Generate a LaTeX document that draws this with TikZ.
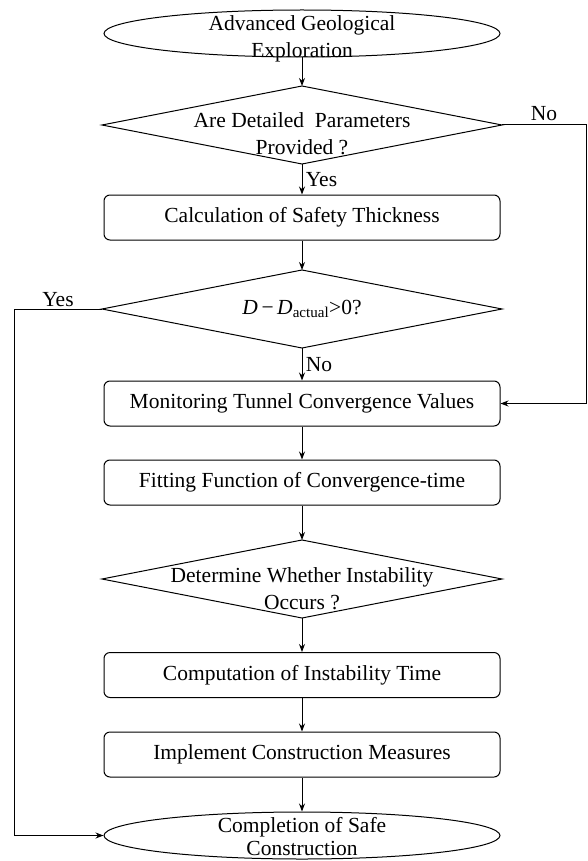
\documentclass[tikz,border=0pt]{standalone}
\usepackage{fontspec}
\setmainfont{Liberation Serif}
\usetikzlibrary{arrows.meta, shapes}
\tikzset{
	startstop/.style={ellipse, draw, minimum width=396pt, minimum height=47pt, inner sep=0pt},
	decision/.style={rectangle, minimum width=399pt, minimum height=77pt, inner sep=0pt},
	process/.style={rectangle, draw, rounded corners=6pt, minimum width=396pt, minimum height=45pt, inner sep=0pt, text centered},
	flow/.style={-{Stealth[length=8pt,width=6pt]}},
}
\newcommand{\twolines}[3][-0.5em]{\smash{\raisebox{#1}{\begin{tabular}{@{}c@{}}#2\\#3\end{tabular}}}}

\begin{document}
\begin{tikzpicture}[x=1pt, y=-1pt, line width=1pt, font=\fontsize{21.5}{27}\selectfont]
	\useasboundingbox (0,0) rectangle (587,861);
	% the main column
	\node[startstop] (start) at (302,33.5) {\twolines{Advanced Geological}{Exploration}};
	\node[decision] (dec1) at (302,125) {\twolines[-0.75em]{Are Detailed~~Parameters}{Provided ?}};
	\node[process] (calc) at (302,217.5) {Calculation of Safety Thickness};
	\node[decision] (dec2) at (302,309) {\textit{D}\,−\,\textit{D}\textsubscript{actual}>0?};
	\node[process] (monitor) at (302,403.5) {Monitoring Tunnel Convergence Values};
	\node[process] (fitting) at (302,482.5) {Fitting Function of Convergence-time};
	\node[decision] (dec3) at (302,579) {\twolines[-0.78em]{Determine Whether Instability}{Occurs ?}};
	\node[process] (comp) at (302,675) {Computation of Instability Time};
	\node[process] (measure) at (302,754.5) {Implement Construction Measures};
	\node[startstop] (stop) at (302,835.5) {\twolines[-0.5em]{Completion of Safe}{\raisebox{4pt}{Construction}}};
	% diamond outlines
	\foreach \d in {dec1,dec2,dec3}
		\draw (\d.west) -- (\d.north) -- (\d.east) -- (\d.south) -- cycle;
	% straight down
	\draw[flow] (start) -- (dec1);
	\draw[flow] (dec1) -- node[right]{Yes} (calc);
	\draw[flow] (calc) -- (dec2);
	\draw[flow] (dec2) -- node[right]{No} (monitor);
	\draw[flow] (monitor) -- (fitting);
	\draw[flow] (fitting) -- (dec3);
	\draw[flow] (dec3) -- (comp);
	\draw[flow] (comp) -- (measure);
	\draw[flow] (measure) -- (stop);
	% side branches
	\coordinate (noturn) at (586,125);
	\coordinate (noback) at (586,403.5);
	\draw[flow] (dec1.east) -- node[above]{No} (noturn) -- (noback) -- (monitor.east);
	\coordinate (yesturn) at (14,309);
	\coordinate (yesdown) at (14,835.5);
	\draw[flow] (dec2.west) -- node[above, inner sep=2pt]{Yes} (yesturn) -- (yesdown) -- (stop.west);
\end{tikzpicture}
\end{document}
